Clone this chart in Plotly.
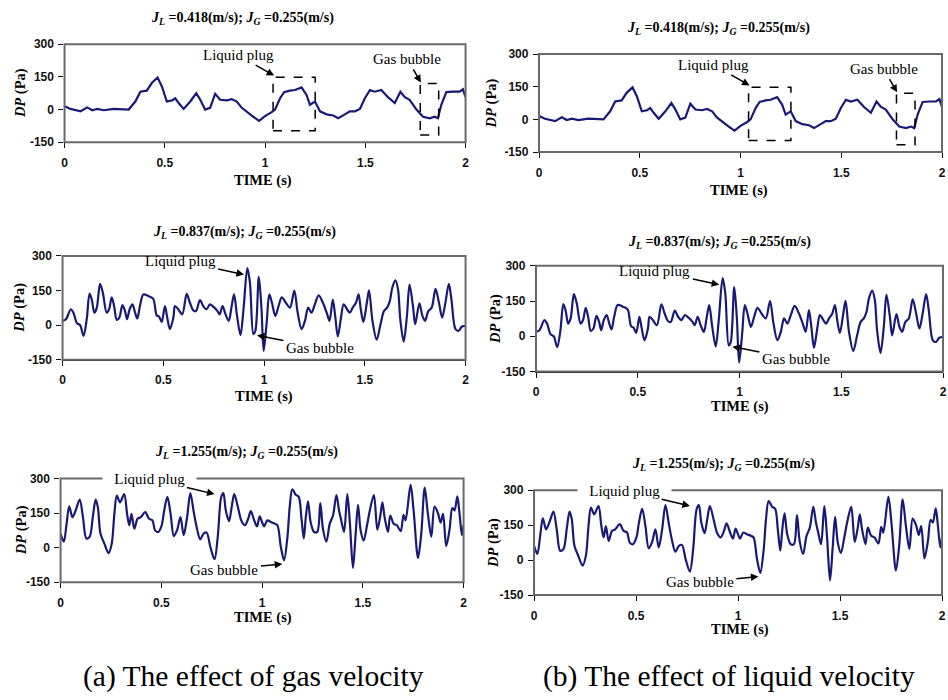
import plotly.graph_objects as go

# ---------------- data ----------------
time_418 = [0, 0.03, 0.08, 0.113, 0.138, 0.163, 0.196, 0.245, 0.32, 0.353, 0.378, 0.41, 0.436, 0.464, 0.486,
            0.51, 0.536, 0.552, 0.569, 0.594, 0.627, 0.657, 0.677, 0.701, 0.726, 0.751, 0.776, 0.809, 0.834,
            0.859, 0.884, 0.909, 0.942, 0.97, 1.0, 1.033, 1.05, 1.075, 1.095, 1.124, 1.149, 1.182, 1.207,
            1.224, 1.249, 1.274, 1.307, 1.34, 1.365, 1.398, 1.423, 1.448, 1.473, 1.498, 1.523, 1.547, 1.58,
            1.613, 1.647, 1.675, 1.697, 1.721, 1.755, 1.788, 1.821, 1.846, 1.862, 1.879, 1.904, 1.937, 1.97,
            1.987, 2.0]
dp_418 = [15, 3, -8, 10, -3, 3, -3, 3, 0, 37, 82, 87, 123, 147, 105,
          37, 42, 52, 30, 3, 37, 75, 45, 0, 8, 72, 45, 42, 48,
          37, 8, -8, -33, -52, -30, -12, 0, 52, 80, 87, 90, 102, 67,
          22, 37, -8, -22, -27, -40, -22, -8, -8, 3, 52, 90, 82, 90,
          57, 30, 82, 57, 45, 0, -33, -40, -33, -40, 22, 80, 82, 82,
          93, 57]

time_837 = [0, 0.017, 0.041, 0.054, 0.071, 0.087, 0.104, 0.12, 0.134, 0.145,
            0.158, 0.17, 0.186, 0.2, 0.219, 0.231, 0.244, 0.256, 0.269, 0.282,
            0.297, 0.31, 0.32, 0.333, 0.347, 0.36, 0.371, 0.384, 0.401, 0.426,
            0.45, 0.467, 0.479, 0.492, 0.508, 0.518, 0.533, 0.55, 0.558, 0.574,
            0.594, 0.616, 0.632, 0.649, 0.662, 0.682, 0.698, 0.715, 0.731, 0.748,
            0.769, 0.78, 0.794, 0.809, 0.825, 0.838, 0.851, 0.866, 0.883, 0.898,
            0.917, 0.93, 0.947, 0.957, 0.974, 0.987, 0.998, 1.013, 1.026, 1.039,
            1.056, 1.072, 1.088, 1.108, 1.129, 1.15, 1.167, 1.186, 1.203, 1.219,
            1.235, 1.252, 1.271, 1.292, 1.312, 1.325, 1.341, 1.353, 1.366, 1.382,
            1.395, 1.412, 1.425, 1.44, 1.456, 1.469, 1.48, 1.493, 1.51, 1.521,
            1.538, 1.559, 1.578, 1.595, 1.611, 1.624, 1.636, 1.652, 1.665, 1.676,
            1.693, 1.709, 1.722, 1.739, 1.75, 1.771, 1.786, 1.799, 1.815, 1.832,
            1.851, 1.868, 1.884, 1.9, 1.917, 1.93, 1.95, 1.966, 1.982, 2.0]
dp_837 = [19, 26, 69, 54, 9, 0, -46, 26, 137, 111,
          54, 76, 179, 140, 54, 69, 121, 83, 23, 33,
          87, 61, 26, 69, 90, 54, 29, 83, 133, 126,
          114, 43, 37, 14, 83, 40, -17, 33, 83, 69,
          47, 136, 97, 64, 61, 109, 83, 69, 90, 80,
          61, 47, 83, 47, 19, 76, 133, 40, -43, 69,
          247, 183, -39, -24, 209, 76, -112, 11, 133, 97,
          40, 83, 121, 97, 76, 150, 54, -17, 19, 76,
          54, 90, 129, 97, 51, 19, 111, 40, -49, 33,
          90, 69, 54, 76, 97, 133, 69, 14, 97, 151,
          19, -63, 4, 61, 76, 104, 161, 194, 154, 26,
          -71, 40, 176, 83, 4, 94, 40, 19, 61, 76,
          157, 97, 33, 97, 179, 111, -17, -24, -6, -3]

time_1255 = [0, 0.016, 0.03, 0.043, 0.059, 0.075, 0.095, 0.111, 0.128, 0.144,
             0.161, 0.174, 0.185, 0.198, 0.218, 0.238, 0.254, 0.267, 0.279, 0.295,
             0.316, 0.33, 0.341, 0.352, 0.366, 0.382, 0.398, 0.42, 0.439, 0.456,
             0.469, 0.485, 0.502, 0.513, 0.53, 0.546, 0.562, 0.579, 0.595, 0.611,
             0.628, 0.644, 0.661, 0.677, 0.693, 0.71, 0.725, 0.743, 0.764, 0.78,
             0.797, 0.808, 0.82, 0.836, 0.849, 0.862, 0.882, 0.898, 0.915, 0.931,
             0.944, 0.961, 0.975, 0.988, 1.0, 1.01, 1.026, 1.043, 1.063, 1.076,
             1.093, 1.109, 1.126, 1.137, 1.15, 1.167, 1.182, 1.195, 1.207, 1.217,
             1.228, 1.241, 1.258, 1.274, 1.289, 1.302, 1.319, 1.336, 1.352, 1.369,
             1.382, 1.393, 1.407, 1.423, 1.436, 1.451, 1.464, 1.476, 1.489, 1.504,
             1.521, 1.534, 1.555, 1.572, 1.587, 1.597, 1.608, 1.625, 1.636, 1.653,
             1.669, 1.688, 1.702, 1.712, 1.737, 1.752, 1.774, 1.79, 1.807, 1.823,
             1.84, 1.856, 1.873, 1.886, 1.898, 1.914, 1.931, 1.944, 1.955, 1.969,
             1.98, 1.992, 2.0]
dp_1255 = [61, 26, 104, 179, 132, 161, 208, 132, 40, 47,
           139, 208, 175, 61, 16, -24, 18, 146, 225, 196,
           232, 146, 97, 146, 82, 125, 132, 154, 125, 118,
           75, 68, 97, 154, 220, 146, 50, 78, 132, 54,
           132, 236, 154, 82, 36, 61, 65, 4, -50, 47,
           218, 236, 161, 115, 175, 232, 168, 115, 97, 125,
           158, 118, 92, 135, 110, 92, 118, 111, 104, 97,
           4, -55, 47, 175, 253, 229, 220, 132, 40, 132,
           200, 111, 68, 68, 193, 82, 26, 104, 139, 228,
           161, 118, 68, 232, 104, -88, 54, 185, 75, 30,
           97, 158, 228, 78, 139, 196, 132, 68, 139, 104,
           97, 71, 142, 118, 272, 161, -45, 61, 260, 146,
           47, 178, 149, 108, 146, 7, 82, 172, 161, 222,
           146, 54, 97]

jl_labels = ["0.418", "0.837", "1.255"]
jg_label = "0.255"
xtick_vals = [0, 0.5, 1, 1.5, 2]
xtick_text = ["0", "0.5", "1", "1.5", "2"]
ytick_vals = [-150, 0, 150, 300]
ytick_text = ["-150", "0", "150", "300"]
captions = ["(a) The effect of gas velocity", "(b) The effect of liquid velocity"]

# ---------------- layout geometry (pixels) ----------------
W, H = 948, 700
areas = [(62, 466, 38, 138), (60, 466, 254, 360), (58, 464, 481, 587),
         (540, 946, 48, 148), (537, 947, 264, 372), (535, 946, 493, 600)]
title_pos = [(241, 12), (243, 230), (245, 455), (721, 22), (722, 240), (726, 467)]
xtitle_pos = [(262, 177), (263, 397), (262, 623), (741, 187), (742, 408), (742, 635)]
ytitle_x = [17, 17, 18, 492, 496, 494]
caption_pos = [(252, 683), (731, 683)]

LINE = "#1a1a76"
SERIF = "Liberation Serif"
SANS = "Liberation Sans"

series = [(time_418, dp_418), (time_837, dp_837), (time_1255, dp_1255)]


def px(x):
    return x / W


def py(y):
    return 1 - y / H


fig = go.Figure()
shapes = []
annotations = []
layout = {}

for i in range(6):
    k = i % 3
    n = "" if i == 0 else str(i + 1)
    t, dp = series[k]
    fig.add_trace(go.Scatter(
        x=t, y=dp, mode="lines", xaxis="x" + n, yaxis="y" + n,
        line=dict(color=LINE, width=2.2,
                  shape="linear" if k == 0 else "spline", smoothing=0.9),
        showlegend=False, hoverinfo="skip"))
    l, r, tp, bt = areas[i]
    axis_common = dict(showgrid=False, zeroline=False, showline=True, linecolor="#111111",
                       linewidth=1.4, ticks="outside", ticklen=5, tickwidth=1.3,
                       tickcolor="#111111", fixedrange=True,
                       tickfont=dict(family=SANS, size=12, color="#111111", weight="bold"))
    layout["xaxis" + n] = dict(domain=[px(l), px(r)], anchor="y" + n, range=[0, 2],
                               tickvals=xtick_vals, ticktext=xtick_text,
                               ticklabelstandoff=4, **axis_common)
    layout["yaxis" + n] = dict(domain=[py(bt), py(tp)], anchor="x" + n, range=[-150, 300],
                               tickvals=ytick_vals, ticktext=ytick_text,
                               ticklabelstandoff=2, **axis_common)
    # frame
    shapes.append(dict(type="rect", xref="x" + n + " domain", yref="y" + n + " domain",
                       x0=0, x1=1, y0=0, y1=1, line=dict(color="#6a6a6a", width=2),
                       layer="above"))
    # panel title
    tx, ty = title_pos[i]
    annotations.append(dict(
        xref="paper", yref="paper", x=px(tx), y=py(ty), xanchor="center", yanchor="middle",
        showarrow=False,
        text=f"<b><i>J</i><sub><i>L</i></sub> ={jl_labels[k]}(m/s); <i>J</i><sub><i>G</i></sub> ={jg_label}(m/s)</b>",
        font=dict(family=SERIF, size=14, color="black")))
    # x title
    xx, xy = xtitle_pos[i]
    annotations.append(dict(xref="paper", yref="paper", x=px(xx), y=py(xy),
                            xanchor="center", yanchor="middle", showarrow=False,
                            text="<b>TIME (s)</b>",
                            font=dict(family=SERIF, size=14.5, color="black")))
    # y title
    annotations.append(dict(xref="paper", yref="paper", x=px(ytitle_x[i]), y=py((tp + bt) / 2),
                            xanchor="center", yanchor="middle", showarrow=False, textangle=-90,
                            text="<b><i>DP</i> (Pa)</b>",
                            font=dict(family=SERIF, size=14.5, color="black")))

    xr, yr = "x" + n, "y" + n
    afont = dict(family=SERIF, size=15, color="black")

    def note(text, head, pos, **kw):
        # text sits at pos; arrow points from the text to head
        return dict(xref=xr, yref=yr, axref=xr, ayref=yr, x=head[0], y=head[1],
                    ax=pos[0], ay=pos[1], text=text, font=afont, showarrow=True,
                    arrowhead=2, arrowsize=1, arrowwidth=1.5, arrowcolor="black",
                    standoff=0, startstandoff=1, **kw)

    if k == 0:
        # dashed boxes
        shapes.append(dict(type="rect", xref=xr, yref=yr, x0=1.04, x1=1.25, y0=-97, y1=148,
                           line=dict(color="black", width=1.5, dash="dash")))
        shapes.append(dict(type="rect", xref=xr, yref=yr, x0=1.774, x1=1.866, y0=-117, y1=120,
                           line=dict(color="black", width=1.5, dash="dash")))
        annotations.append(note("Liquid plug", (1.045, 156), (0.866, 250)))
        annotations.append(note("Gas bubble", (1.777, 124), (1.71, 232)))
    elif k == 1:
        annotations.append(note("Liquid plug", (0.90, 219), (0.584, 279)))
        annotations.append(note("Gas bubble", (0.965, -44), (1.277, -98)))
    else:
        annotations.append(note("\u00a0\u00a0\u00a0Liquid plug\u00a0\u00a0\u00a0", (0.764, 232),
                                (0.443, 298), bgcolor="white", borderpad=0))
        annotations.append(note("Gas bubble", (1.10, -71), (0.813, -95)))

for cap, (cx, cy) in zip(captions, caption_pos):
    annotations.append(dict(xref="paper", yref="paper", x=px(cx), y=py(cy),
                            xanchor="center", yanchor="middle", showarrow=False, text=cap,
                            font=dict(family=SERIF, size=29.5, color="black")))

fig.update_layout(
    width=W, height=H, margin=dict(l=0, r=0, t=0, b=0),
    paper_bgcolor="white", plot_bgcolor="white",
    shapes=shapes, annotations=annotations, **layout)

fig.write_html("out.html", config={"displayModeBar": False})
